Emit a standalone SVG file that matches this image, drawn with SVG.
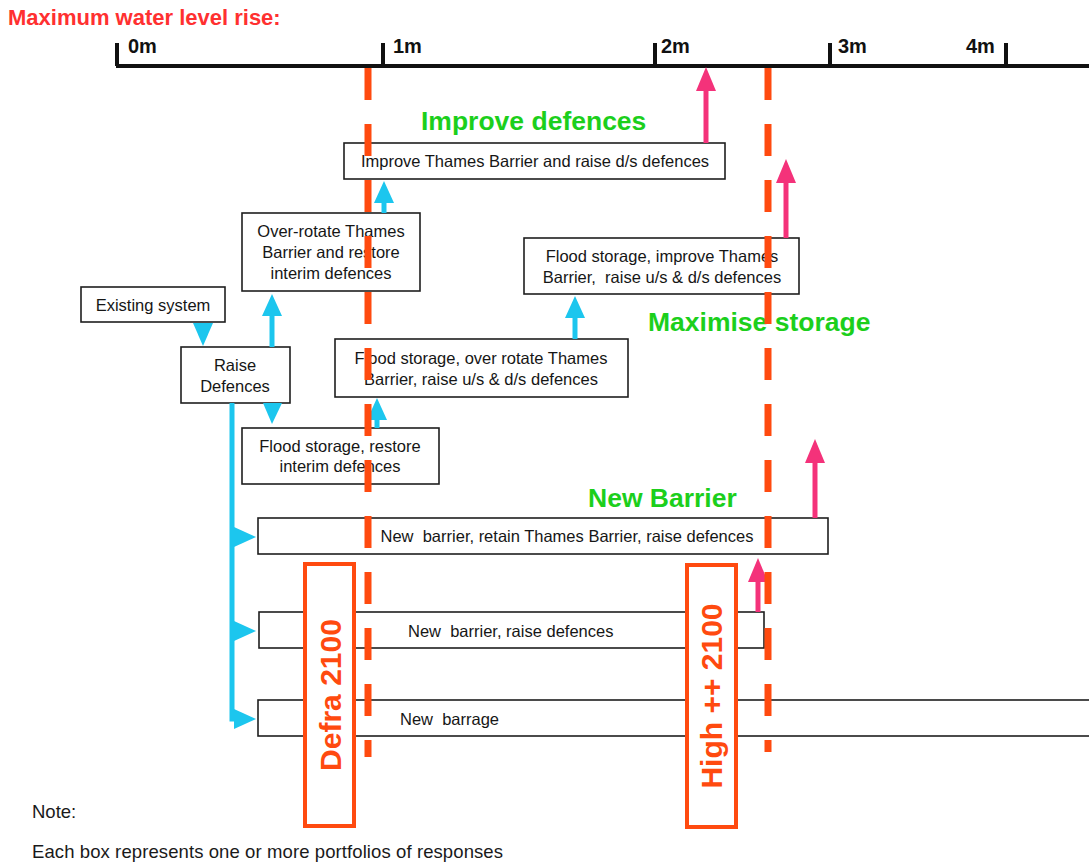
<svg xmlns="http://www.w3.org/2000/svg" width="1089" height="865" viewBox="0 0 1089 865">
<style>
.box{fill:#fff;stroke:#1e1e1e;stroke-width:1.6}
.lbl{font-family:"Liberation Sans",Arial,sans-serif;font-size:16.5px;fill:#161616;text-anchor:middle}
.lbs{font-family:"Liberation Sans",Arial,sans-serif;font-size:16.5px;fill:#161616}
.grn{font-family:"Liberation Sans",Arial,sans-serif;font-size:26.5px;font-weight:bold;fill:#1ccf1c}
.axl{font-family:"Liberation Sans",Arial,sans-serif;font-size:20px;font-weight:bold;fill:#111}
.cy{stroke:#1cc6ee;stroke-width:5;fill:none}
.cyh{fill:#1cc6ee}
.pk{stroke:#f4327a;stroke-width:5;fill:none}
.dash{stroke:#ff4a0f;stroke-width:7;stroke-dasharray:32 24;fill:none}
.scen{fill:#fff;stroke:#ff4a0f;stroke-width:4}
.scent{font-family:"Liberation Sans",Arial,sans-serif;font-size:30px;font-weight:bold;fill:#ff4a0f;text-anchor:middle}
.note{font-family:"Liberation Sans",Arial,sans-serif;font-size:18.5px;fill:#1a1a1a}
</style>
<defs>
<marker id="hc" markerUnits="userSpaceOnUse" markerWidth="22" markerHeight="20" viewBox="0 0 22 20" refX="1" refY="10" orient="auto"><path d="M0,0 L22,10 L0,20 z" fill="#1cc6ee"/></marker>
<marker id="hp" markerUnits="userSpaceOnUse" markerWidth="24" markerHeight="20" viewBox="0 0 24 20" refX="1" refY="10" orient="auto"><path d="M0,0 L24,10 L0,20 z" fill="#f4327a"/></marker>
</defs>
<rect width="1089" height="865" fill="#fff"/>

<g id="title">
<text x="8" y="25" font-family="'Liberation Sans',Arial,sans-serif" font-size="22px" font-weight="bold" fill="#ff3030">Maximum water level rise:</text>
</g>

<g id="axis" stroke="#111" stroke-width="4">
<line x1="116" y1="66" x2="1089" y2="66"/>
<line x1="117" y1="43" x2="117" y2="66"/>
<line x1="383" y1="43" x2="383" y2="66"/>
<line x1="655" y1="43" x2="655" y2="66"/>
<line x1="830" y1="43" x2="830" y2="66"/>
<line x1="1006" y1="43" x2="1006" y2="66"/>
</g>
<g id="axis-labels">
<text class="axl" x="128" y="53">0m</text>
<text class="axl" x="393" y="53">1m</text>
<text class="axl" x="661" y="53">2m</text>
<text class="axl" x="838" y="53">3m</text>
<text class="axl" x="966" y="53">4m</text>
</g>

<g id="group-labels">
<text class="grn" x="421" y="130">Improve defences</text>
<text class="grn" x="648" y="331">Maximise storage</text>
<text class="grn" x="588" y="507">New Barrier</text>
</g>

<g id="n-existing"><rect class="box" x="81" y="287" width="144" height="35"/><text class="lbl" x="153" y="311">Existing system</text></g>
<g id="n-raise"><rect class="box" x="181" y="347" width="109" height="56"/><text class="lbl" x="235" y="371">Raise</text><text class="lbl" x="235" y="392">Defences</text></g>
<g id="n-overrotate"><rect class="box" x="242" y="213" width="178" height="78"/><text class="lbl" x="331" y="237">Over-rotate Thames</text><text class="lbl" x="331" y="258">Barrier and restore</text><text class="lbl" x="331" y="279">interim defences</text></g>
<g id="n-fs-restore"><rect class="box" x="242" y="428" width="197" height="56"/><text class="lbl" x="340" y="452">Flood storage, restore</text><text class="lbl" x="340" y="472">interim defences</text></g>
<g id="n-improve"><rect class="box" x="344" y="143" width="381" height="36"/><text class="lbl" x="535" y="167">Improve Thames Barrier and raise d/s defences</text></g>
<g id="n-fs-improve"><rect class="box" x="524" y="238" width="275" height="56"/><text class="lbl" x="662" y="262">Flood storage, improve Thames</text><text class="lbl" x="662" y="283" xml:space="preserve">Barrier,  raise u/s &amp; d/s defences</text></g>
<g id="n-fs-over"><rect class="box" x="335" y="339" width="293" height="58"/><text class="lbl" x="481" y="364">Flood storage, over rotate Thames</text><text class="lbl" x="481" y="385">Barrier, raise u/s &amp; d/s defences</text></g>
<g id="n-newbarrier-retain"><rect class="box" x="258" y="518" width="570" height="36"/><text class="lbl" x="567" y="542" xml:space="preserve">New  barrier, retain Thames Barrier, raise defences</text></g>
<g id="n-newbarrier"><rect class="box" x="259" y="612" width="505" height="36"/><text class="lbs" x="408" y="637" xml:space="preserve">New  barrier, raise defences</text></g>
<g id="n-barrage"><rect class="box" x="258" y="700" width="840" height="36"/><text class="lbs" x="400" y="725" xml:space="preserve">New  barrage</text></g>

<g id="connectors">
<polygon class="cyh" points="193,323 213,323 203,346"/>
<polygon class="cyh" points="263,403 282,403 272,424"/>
<line class="cy" x1="272" y1="347" x2="272" y2="315" marker-end="url(#hc)"/>
<line class="cy" x1="384" y1="213" x2="384" y2="202" marker-end="url(#hc)"/>
<line class="cy" x1="377" y1="428" x2="377" y2="419" marker-end="url(#hc)"/>
<line class="cy" x1="575" y1="339" x2="575" y2="317" marker-end="url(#hc)"/>
<path class="cy" d="M232,403 V719 H235" marker-end="url(#hc)"/>
<path class="cy" d="M232,537 H235" marker-end="url(#hc)"/>
<path class="cy" d="M232,631 H235" marker-end="url(#hc)"/>
<line class="pk" x1="706" y1="143" x2="706" y2="90" marker-end="url(#hp)"/>
<line class="pk" x1="786" y1="238" x2="786" y2="182" marker-end="url(#hp)"/>
<line class="pk" x1="815" y1="518" x2="815" y2="462" marker-end="url(#hp)"/>
<line class="pk" x1="758" y1="612" x2="758" y2="581" marker-end="url(#hp)"/>
</g>

<g id="scenario-lines">
<line class="dash" x1="368" y1="68" x2="368" y2="757"/>
<line class="dash" x1="768" y1="68" x2="768" y2="752"/>
</g>

<g id="s-defra"><rect class="scen" x="305" y="564" width="49" height="262"/><text class="scent" transform="translate(341,695) rotate(-90)">Defra 2100</text></g>
<g id="s-high"><rect class="scen" x="687" y="565" width="49" height="262"/><text class="scent" transform="translate(722,696) rotate(-90)">High ++ 2100</text></g>

<g id="note">
<text class="note" x="32" y="818">Note:</text>
<text class="note" x="32" y="858" textLength="471">Each box represents one or more portfolios of responses</text>
</g>
</svg>
